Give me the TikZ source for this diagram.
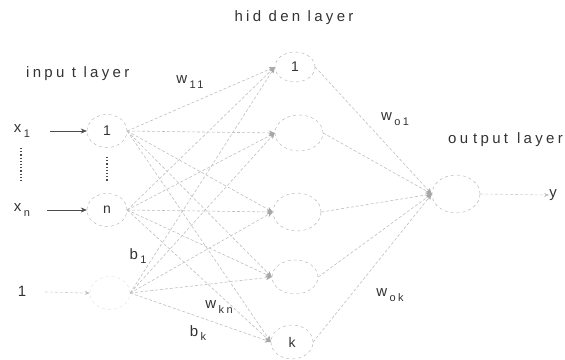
\documentclass[tikz,border=0pt]{standalone}
\usepackage{fontspec}
\setmainfont[LetterSpace=22]{Liberation Sans}
\usetikzlibrary{shapes.geometric,arrows.meta}
\newcommand\sbx[1]{\hspace{2.5pt}\raisebox{-0.6ex}{\fontsize{11}{11}\selectfont #1}}
\begin{document}
\begin{tikzpicture}[x=1pt,y=-1pt,
  neuron/.style={ellipse,draw=gray!65,dashed,inner sep=0pt,text=black!80,font=\fontsize{14}{14}\selectfont},
  faintneuron/.style={ellipse,draw=gray!25,dashed,inner sep=0pt},
  conn/.style={draw=gray!50,densely dashed,line width=0.6pt,-{Stealth[length=6pt,width=5pt,gray!70]}},
  faintconn/.style={draw=gray!35,densely dashed,line width=0.6pt,-{Stealth[length=5pt,width=4pt,gray!50]}},
  inarrow/.style={draw=black!70,line width=0.6pt,-{Stealth[length=6pt,width=5pt]}},
  lbl/.style={text=black!80,inner sep=0pt,font=\fontsize{15}{15}\selectfont},
  dotline/.style={draw=black!70,line width=1.2pt,dotted}]
\useasboundingbox (0,0) rectangle (565,359);
% input layer
\node[neuron,minimum width=40pt,minimum height=33pt] (i1) at (107,131) {1};
\node[neuron,minimum width=40pt,minimum height=33pt] (in) at (107,210) {n};
\node[faintneuron,minimum width=40pt,minimum height=33pt] (b) at (110,293) {};
% hidden layer
\node[neuron,minimum width=40pt,minimum height=30pt] (h1) at (295,67) {1};
\node[neuron,minimum width=48pt,minimum height=36pt] (h2) at (299,133) {};
\node[neuron,minimum width=48pt,minimum height=38pt] (h3) at (297,212) {};
\node[neuron,minimum width=46pt,minimum height=34pt] (h4) at (295,277) {};
\node[neuron,minimum width=42pt,minimum height=34pt] (hk) at (292,342) {k};
% output
\node[neuron,minimum width=48pt,minimum height=38pt] (o) at (456,194) {};
% labels
\node[lbl] at (294,18) {hid den layer};
\node[lbl,anchor=west] at (26,74) {inpu t layer};
\node[lbl,anchor=west] at (448,140) {ou\hspace{5pt}tput\hspace{9pt}layer};
\node[lbl] (x1) at (22,131) {x\sbx{1}};
\node[lbl] (xn) at (22,210) {x\sbx{n}};
\node[lbl] (one) at (22,291) {1};
\node[lbl] (y) at (553,195) {y};
\node[lbl] at (190,82) {w\sbx{11}};
\node[lbl] at (138,256) {b\sbx{1}};
\node[lbl] at (219,307) {w\sbx{kn}};
\node[lbl] at (198,333) {b\sbx{k}};
\node[lbl] at (395,119) {w\sbx{o1}};
\node[lbl] at (390,295) {w\sbx{ok}};
% input arrows
\coordinate (a1) at (50,131);
\coordinate (an) at (47,210);
\draw[inarrow] (a1) -- (i1.west);
\draw[inarrow] (an) -- (in.west);
\coordinate (ab) at (45,292);
\draw[faintconn] (ab) -- (b.west);
% dotted verticals
\coordinate (d1) at (21,148); \coordinate (d2) at (21,181);
\coordinate (d3) at (107,157); \coordinate (d4) at (107,181);
\draw[dotline] (d1) -- (d2);
\draw[dotline] (d3) -- (d4);
% connections input -> hidden
\foreach \s in {i1,in,b}{
  \foreach \t in {h1,h2,h3,h4,hk}{
    \draw[conn] (\s.east) -- (\t.west);
  }
}
% hidden -> output
\foreach \t in {h1,h2,h3,h4,hk}{
  \draw[conn] (\t.east) -- (o.west);
}
\draw[faintconn] (o.east) -- (y.west);
\end{tikzpicture}
\end{document}
